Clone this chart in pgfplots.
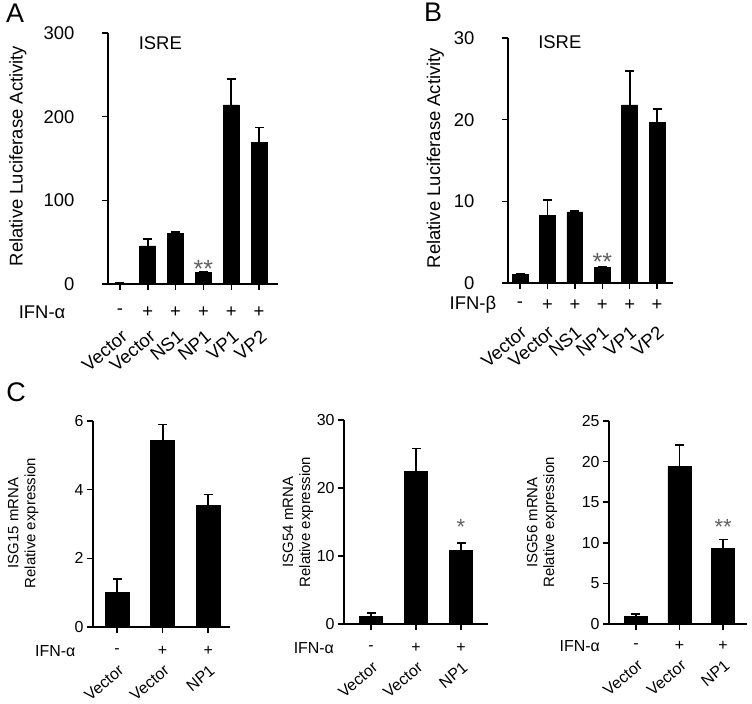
\documentclass[border=0pt]{standalone}
\usepackage{pgfplots}
\pgfplotsset{compat=1.18}
\usepackage{fontspec}
\setmainfont{Liberation Sans}
\newcommand\fA{\fontsize{18.5}{21}\selectfont}
\newcommand\fC{\fontsize{16}{18}\selectfont}
\newcommand\fCl{\fontsize{15}{17}\selectfont}
\newcommand\fS{\fontsize{25}{27}\selectfont}
\newcommand\fSc{\fontsize{22}{24}\selectfont}
\definecolor{stargray}{HTML}{606060}
\pgfplotsset{
  panel/.style={
    scale only axis, axis lines*=left, clip=false,
    axis line style={line width=1.7bp, black},
    tick style={line width=1.5bp, black}, major tick length=6bp, tick align=outside,
    ymin=0, enlargelimits=false,
    /pgf/number format/assume math mode=true,
    ybar, xtick=data,
  },
  bars/.style={
    fill=black, draw=black, line width=0.8bp,
    error bars/.cd, y dir=plus, y explicit,
    error bar style={line width=1.8bp, black},
    error mark options={rotate=90, mark size=4.5bp, line width=1.8bp, black},
  },
}
\begin{document}
\begin{tikzpicture}
\path[use as bounding box] (0bp,0bp) rectangle (752bp,704bp);
\node[font=\fontsize{27}{29}\selectfont] at (15bp,691bp) {A};
\node[font=\fontsize{27}{29}\selectfont] at (433bp,692bp) {B};
\node[font=\fontsize{27}{29}\selectfont] at (16bp,312bp) {C};

% ---------- Panel A ----------
\begin{axis}[panel, at={(108bp,420bp)}, anchor=south west, width=170bp, height=251bp,
  xmin=-0.43, xmax=5.68, ymax=300, ytick={0,100,200,300}, bar width=0.58,
  tick label style={font=\fA},
  yticklabel shift=24bp,
  xticklabels={Vector,Vector,NS1,NP1,VP1,VP2},
  xticklabel style={xshift=1bp, yshift=-34bp, rotate=40, anchor=north east},
  ylabel={Relative Luciferase Activity}, ylabel style={font=\fA, at={(axis description cs:-0.53,0.51)}, anchor=center}]
\addplot[bars] coordinates {(0,1) +- (0,0) (1,45.5) +- (0,8) (2,60) +- (0,2) (3,13.5) +- (0,1) (4,214) +- (0,31) (5,169) +- (0,18)};
\node[font=\fA] at (axis cs:1.45,288) {ISRE};
\node[font=\fS, text=stargray] at (axis cs:3,24) [yshift=-5bp] {**};
\node[font=\fA] at (axis cs:-2.8,0) [yshift=-28bp] {IFN-α};
\node[font=\fA] at (axis cs:0,0) [yshift=-28bp] {-};
\node[font=\fA] at (axis cs:1,0) [yshift=-28bp] {+};
\node[font=\fA] at (axis cs:2,0) [yshift=-28bp] {+};
\node[font=\fA] at (axis cs:3,0) [yshift=-28bp] {+};
\node[font=\fA] at (axis cs:4,0) [yshift=-28bp] {+};
\node[font=\fA] at (axis cs:5,0) [yshift=-28bp] {+};
\end{axis}

% ---------- Panel B ----------
\begin{axis}[panel, at={(508bp,421bp)}, anchor=south west, width=165bp, height=245bp,
  xmin=-0.44, xmax=5.58, ymax=30, ytick={0,10,20,30}, bar width=0.58,
  tick label style={font=\fA},
  yticklabel shift=24bp,
  xticklabels={Vector,Vector,NS1,NP1,VP1,VP2},
  xticklabel style={xshift=0bp, yshift=-31bp, rotate=40, anchor=north east},
  ylabel={Relative Luciferase Activity}, ylabel style={font=\fA, at={(axis description cs:-0.44,0.51)}, anchor=center}]
\addplot[bars] coordinates {(0,1.0) +- (0,0.1) (1,8.3) +- (0,1.9) (2,8.7) +- (0,0.15) (3,1.9) +- (0,0.1) (4,21.8) +- (0,4.2) (5,19.7) +- (0,1.6)};
\node[font=\fA] at (axis cs:1.45,29.5) {ISRE};
\node[font=\fS, text=stargray] at (axis cs:3,3.2) [yshift=-5bp] {**};
\node[font=\fA] at (axis cs:-1.72,0) [yshift=-22bp] {IFN-β};
\node[font=\fA] at (axis cs:0,0) [yshift=-22bp] {-};
\node[font=\fA] at (axis cs:1,0) [yshift=-22bp] {+};
\node[font=\fA] at (axis cs:2,0) [yshift=-22bp] {+};
\node[font=\fA] at (axis cs:3,0) [yshift=-22bp] {+};
\node[font=\fA] at (axis cs:4,0) [yshift=-22bp] {+};
\node[font=\fA] at (axis cs:5,0) [yshift=-22bp] {+};
\end{axis}

% ---------- Panel C1 ----------
\begin{axis}[panel, at={(93bp,77bp)}, anchor=south west, width=137bp, height=206bp,
  xmin=-0.53, xmax=2.48, ymax=6, ytick={0,2,4,6}, bar width=0.53,
  tick label style={font=\fC},
  xticklabels={Vector,Vector,NP1},
  xticklabel style={xshift=1bp, yshift=-26bp, rotate=40, anchor=north east},
  ylabel={ISG15 mRNA\\Relative expression}, ylabel style={font=\fCl, align=center, at={(axis description cs:-0.51,0.505)}, anchor=center}]
\addplot[bars] coordinates {(0,1.01) +- (0,0.38) (1,5.44) +- (0,0.46) (2,3.53) +- (0,0.33)};
\node[font=\fC] at (axis cs:-1.36,0) [yshift=-24bp] {IFN-α};
\node[font=\fC] at (axis cs:0,0) [yshift=-24bp] {-};
\node[font=\fC] at (axis cs:1,0) [yshift=-24bp] {+};
\node[font=\fC] at (axis cs:2,0) [yshift=-24bp] {+};
\end{axis}

% ---------- Panel C2 ----------
\begin{axis}[panel, at={(344bp,80bp)}, anchor=south west, width=144bp, height=204bp,
  xmin=-0.6, xmax=2.6, ymax=30, ytick={0,10,20,30}, bar width=0.5,
  tick label style={font=\fC},
  xticklabels={Vector,Vector,NP1},
  xticklabel style={xshift=1bp, yshift=-26bp, rotate=40, anchor=north east},
  ylabel={ISG54 mRNA\\Relative expression}, ylabel style={font=\fCl, align=center, at={(axis description cs:-0.32,0.5)}, anchor=center}]
\addplot[bars] coordinates {(0,1.08) +- (0,0.5) (1,22.5) +- (0,3.3) (2,10.8) +- (0,1.15)};
\node[font=\fSc, text=stargray] at (axis cs:2,14.85) [yshift=-4bp] {*};
\node[font=\fC] at (axis cs:-1.27,0) [yshift=-24bp] {IFN-α};
\node[font=\fC] at (axis cs:0,0) [yshift=-24bp] {-};
\node[font=\fC] at (axis cs:1,0) [yshift=-24bp] {+};
\node[font=\fC] at (axis cs:2,0) [yshift=-24bp] {+};
\end{axis}

% ---------- Panel C3 ----------
\begin{axis}[panel, at={(609bp,80bp)}, anchor=south west, width=138bp, height=203bp,
  xmin=-0.62, xmax=2.55, ymax=25, ytick={0,5,10,15,20,25}, bar width=0.53,
  tick label style={font=\fC},
  xticklabels={Vector,Vector,NP1},
  xticklabel style={xshift=1bp, yshift=-24bp, rotate=40, anchor=north east},
  ylabel={ISG56 mRNA\\Relative expression}, ylabel style={font=\fCl, align=center, at={(axis description cs:-0.485,0.5)}, anchor=center}]
\addplot[bars] coordinates {(0,0.98) +- (0,0.22) (1,19.4) +- (0,2.6) (2,9.3) +- (0,1.1)};
\node[font=\fSc, text=stargray] at (axis cs:2,12.4) [yshift=-4bp] {**};
\node[font=\fC] at (axis cs:-1.29,0) [yshift=-22bp] {IFN-α};
\node[font=\fC] at (axis cs:0,0) [yshift=-22bp] {-};
\node[font=\fC] at (axis cs:1,0) [yshift=-22bp] {+};
\node[font=\fC] at (axis cs:2,0) [yshift=-22bp] {+};
\end{axis}
\end{tikzpicture}
\end{document}
